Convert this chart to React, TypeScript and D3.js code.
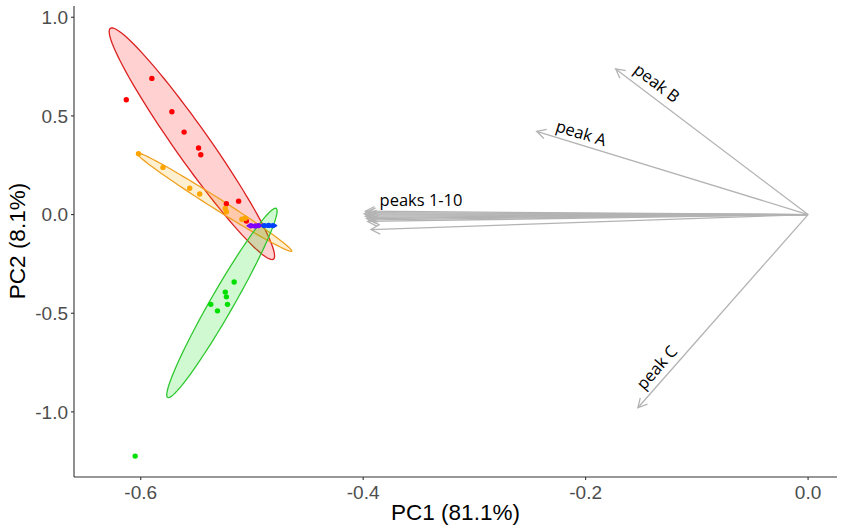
import React, { useRef, useEffect } from 'react';
import * as d3 from 'd3';

type Pt = [number, number];

// group scores (PC1, PC2)
const redPoints: Pt[] = [
  [-0.613, 0.582], [-0.59, 0.69], [-0.572, 0.521], [-0.561, 0.418], [-0.548, 0.337],
  [-0.546, 0.303], [-0.512, 0.068], [-0.523, 0.055], [-0.505, -0.033],
];
const orangePoints: Pt[] = [
  [-0.602, 0.308], [-0.58, 0.239], [-0.556, 0.133], [-0.547, 0.104], [-0.524, 0.031],
  [-0.523, 0.014], [-0.509, -0.024], [-0.506, -0.019],
];
const greenPoints: Pt[] = [
  [-0.516, -0.342], [-0.524, -0.393], [-0.523, -0.417], [-0.522, -0.455], [-0.537, -0.455],
  [-0.531, -0.488], [-0.605, -1.224],
];
const purplePoints: Pt[] = [[-0.501, -0.057], [-0.497, -0.058], [-0.494, -0.056]];
const bluePoints: Pt[] = [[-0.489, -0.056], [-0.485, -0.055], [-0.481, -0.056]];

// ellipse: centre, half major vector, half minor vector (data units)
const redEllipse = { c: [-0.554, 0.359], m: [-0.0733, 0.585], n: [0.0125, 0.0497] };
const orangeEllipse = { c: [-0.534, 0.064], m: [-0.0697, 0.249], n: [0.00265, 0.0235] };
const greenEllipse = { c: [-0.527, -0.448], m: [0.0488, 0.479], n: [0.00896, -0.029] };
const purpleEllipse = { c: [-0.498, -0.057], m: [0.0063, 0], n: [0, 0.0065] };
const blueEllipse = { c: [-0.485, -0.056], m: [0.0072, 0], n: [0, 0.0065] };

// loading arrows
const peakTips: Pt[] = [
  [-0.398, 0.017], [-0.397, 0.01], [-0.399, 0.004], [-0.396, -0.002], [-0.398, -0.008],
  [-0.395, -0.014], [-0.397, -0.02], [-0.394, -0.027], [-0.396, -0.035], [-0.393, -0.076],
];
const namedTips: Pt[] = [[-0.244, 0.422], [-0.173, 0.738], [-0.153, -0.979]];
const namedLabels = ['peak A', 'peak B', 'peak C'];
const namedLabelPos: Pt[] = [[-0.204, 0.413], [-0.136, 0.666], [-0.136, -0.775]];
const bundleLabel = 'peaks 1-10';
const bundleLabelPos: Pt = [-0.348, 0.073];

const xTicks = [-0.6, -0.4, -0.2, 0.0];
const yTicks = [1.0, 0.5, 0.0, -0.5, -1.0];

const groups = [
  { pts: redPoints, ell: redEllipse, color: '#ff0000', stroke: '#dc2020' },
  { pts: orangePoints, ell: orangeEllipse, color: '#ffa500', stroke: '#f0a020' },
  { pts: greenPoints, ell: greenEllipse, color: '#00e000', stroke: '#30c830' },
  { pts: purplePoints, ell: purpleEllipse, color: '#8000ff', stroke: '#7010e0' },
  { pts: bluePoints, ell: blueEllipse, color: '#0040ff', stroke: '#1040e0' },
];

const fmt = (v: number) => v.toFixed(1);

const App: React.FC = () => {
  const svgRef = useRef<SVGSVGElement>(null);

  useEffect(() => {
    document.body.style.margin = '0';
    const svg = d3.select(svgRef.current);
    svg.selectAll('*').remove();

    const x = d3.scaleLinear().domain([-0.66, 0.026]).range([74, 837]);
    const y = d3.scaleLinear().domain([-1.33, 1.057]).range([477, 6]);
    const tickFont = '"Liberation Sans", Arial, sans-serif';
    const labelFont = '"Open Sans", "Noto Sans", sans-serif';

    const defs = svg.append('defs');
    defs.append('marker')
      .attr('id', 'head')
      .attr('markerUnits', 'userSpaceOnUse')
      .attr('viewBox', '-10 -6 12 12')
      .attr('refX', 0)
      .attr('refY', 0)
      .attr('markerWidth', 12)
      .attr('markerHeight', 12)
      .attr('orient', 'auto')
      .append('path')
      .attr('d', 'M-9,-4.8L0,0L-9,4.8')
      .attr('fill', 'none')
      .attr('stroke', '#b3b3b3')
      .attr('stroke-width', 1.3);

    // ellipses
    const ts = d3.range(0, 101).map(i => (i / 100) * Math.PI * 2);
    groups.forEach(g => {
      const { c, m, n } = g.ell;
      const pts = ts.map(t => [
        x(c[0] + Math.cos(t) * m[0] + Math.sin(t) * n[0]),
        y(c[1] + Math.cos(t) * m[1] + Math.sin(t) * n[1]),
      ] as [number, number]);
      svg.append('path')
        .attr('d', d3.line()(pts) + 'Z')
        .attr('fill', g.color)
        .attr('fill-opacity', 0.18)
        .attr('stroke', g.stroke)
        .attr('stroke-width', 1.3);
    });

    // points
    groups.forEach(g => {
      svg.append('g')
        .selectAll('circle')
        .data(g.pts)
        .join('circle')
        .attr('cx', d => x(d[0]))
        .attr('cy', d => y(d[1]))
        .attr('r', 2.7)
        .attr('fill', g.color);
    });

    // arrows
    const arrows = [...peakTips, ...namedTips];
    svg.append('g')
      .selectAll('line')
      .data(arrows)
      .join('line')
      .attr('x1', x(0))
      .attr('y1', y(0))
      .attr('x2', d => x(d[0]))
      .attr('y2', d => y(d[1]))
      .attr('stroke', '#b3b3b3')
      .attr('stroke-width', 1.3)
      .attr('marker-end', 'url(#head)');

    namedLabels.forEach((lab, i) => {
      const tip = namedTips[i];
      const dx = x(0) - x(tip[0]);
      const dy = y(0) - y(tip[1]);
      const ang = (Math.atan2(dy, dx) * 180) / Math.PI;
      const px = x(namedLabelPos[i][0]);
      const py = y(namedLabelPos[i][1]);
      svg.append('text')
        .attr('transform', `translate(${px},${py}) rotate(${ang})`)
        .attr('text-anchor', 'middle')
        .attr('dy', '0.35em')
        .attr('font-family', labelFont)
        .attr('font-size', 16.5)
        .attr('fill', '#000')
        .text(lab);
    });
    svg.append('text')
      .attr('x', x(bundleLabelPos[0]))
      .attr('y', y(bundleLabelPos[1]))
      .attr('text-anchor', 'middle')
      .attr('dy', '0.35em')
      .attr('font-family', labelFont)
      .attr('font-size', 16.5)
      .attr('fill', '#000')
      .text(bundleLabel);

    // axes
    const axisColor = '#333333';
    svg.append('line')
      .attr('x1', 74).attr('x2', 74).attr('y1', 6).attr('y2', 477)
      .attr('stroke', axisColor).attr('stroke-width', 1.1);
    svg.append('line')
      .attr('x1', 74).attr('x2', 837).attr('y1', 477).attr('y2', 477)
      .attr('stroke', axisColor).attr('stroke-width', 1.1);

    const yg = svg.append('g');
    yg.selectAll('line')
      .data(yTicks)
      .join('line')
      .attr('x1', 71).attr('x2', 74)
      .attr('y1', d => y(d)).attr('y2', d => y(d))
      .attr('stroke', axisColor).attr('stroke-width', 1.1);
    yg.selectAll('text')
      .data(yTicks)
      .join('text')
      .attr('x', 68)
      .attr('y', d => y(d))
      .attr('dy', '0.36em')
      .attr('text-anchor', 'end')
      .attr('font-family', tickFont)
      .attr('font-size', 19)
      .attr('fill', '#4d4d4d')
      .text(d => fmt(d));

    const xg = svg.append('g');
    xg.selectAll('line')
      .data(xTicks)
      .join('line')
      .attr('x1', d => x(d)).attr('x2', d => x(d))
      .attr('y1', 477).attr('y2', 480)
      .attr('stroke', axisColor).attr('stroke-width', 1.1);
    xg.selectAll('text')
      .data(xTicks)
      .join('text')
      .attr('x', d => x(d))
      .attr('y', 499)
      .attr('text-anchor', 'middle')
      .attr('font-family', tickFont)
      .attr('font-size', 19)
      .attr('fill', '#4d4d4d')
      .text(d => fmt(d));

    svg.append('text')
      .attr('x', 455.5)
      .attr('y', 520)
      .attr('text-anchor', 'middle')
      .attr('font-family', tickFont)
      .attr('font-size', 22.5)
      .attr('fill', '#000')
      .text('PC1 (81.1%)');
    svg.append('text')
      .attr('transform', 'translate(25,241) rotate(-90)')
      .attr('text-anchor', 'middle')
      .attr('font-family', tickFont)
      .attr('font-size', 22.5)
      .attr('fill', '#000')
      .text('PC2 (8.1%)');
  }, []);

  return <svg ref={svgRef} width={850} height={532} style={{ display: 'block', background: '#fff' }} />;
};

export default App;
